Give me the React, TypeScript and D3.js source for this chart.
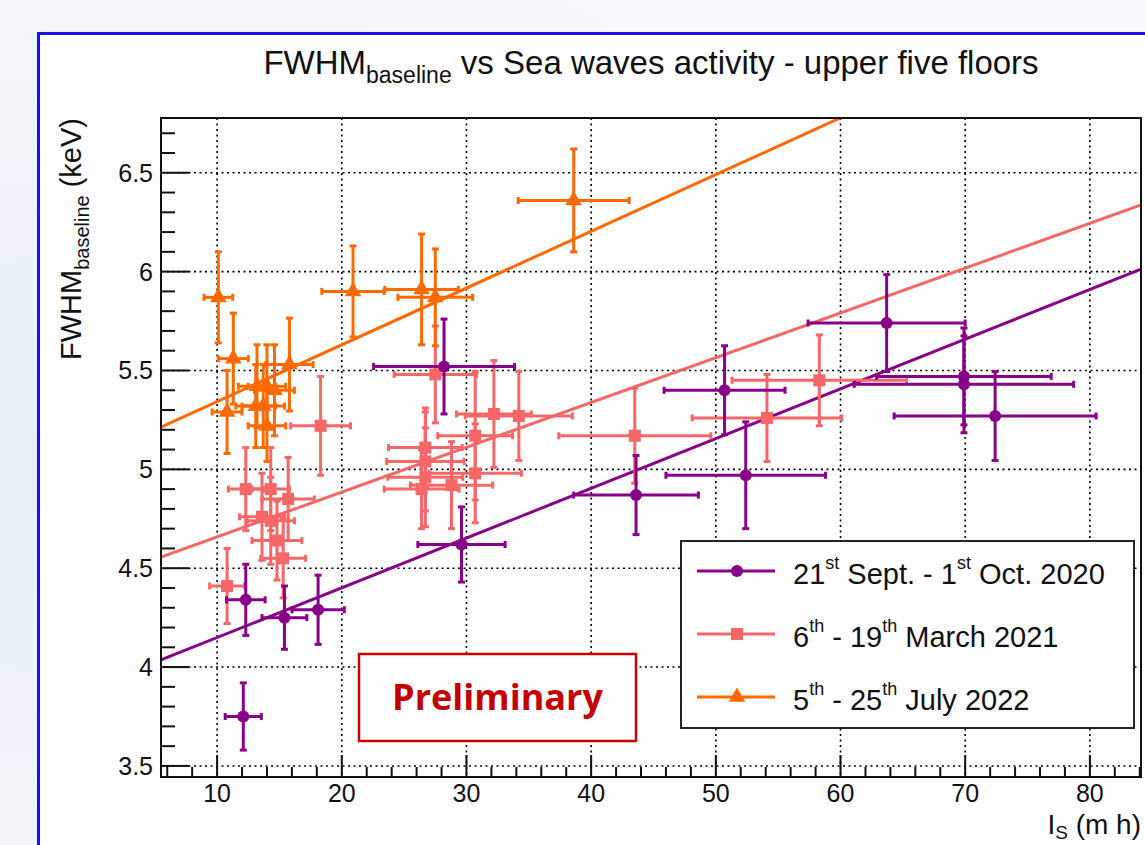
import React from 'react';
import * as d3 from 'd3';

// each point: [I_S, FWHM, I_S error, FWHM error]
const sept2020 = [
  [12.1, 3.75, 1.45, 0.17],
  [12.3, 4.34, 1.55, 0.18],
  [15.4, 4.25, 1.8, 0.16],
  [18.1, 4.29, 2.1, 0.175],
  [29.6, 4.62, 3.5, 0.19],
  [28.2, 5.52, 5.65, 0.24],
  [43.6, 4.87, 5.0, 0.2],
  [50.7, 5.40, 4.85, 0.225],
  [52.4, 4.97, 6.4, 0.27],
  [63.7, 5.74, 6.3, 0.245],
  [69.9, 5.47, 7.0, 0.245],
  [69.9, 5.43, 8.8, 0.245],
  [72.4, 5.27, 8.1, 0.225],
];

const march2021 = [
  [10.8, 4.41, 1.4, 0.19],
  [12.3, 4.90, 1.4, 0.21],
  [14.3, 4.90, 1.5, 0.21],
  [15.7, 4.85, 2.1, 0.21],
  [13.6, 4.76, 1.8, 0.22],
  [14.3, 4.74, 1.9, 0.22],
  [14.8, 4.64, 2.0, 0.2],
  [15.3, 4.55, 1.8, 0.2],
  [18.3, 5.22, 2.4, 0.25],
  [27.5, 5.48, 3.3, 0.245],
  [32.2, 5.28, 3.0, 0.27],
  [34.2, 5.27, 4.3, 0.225],
  [30.7, 5.17, 3.0, 0.325],
  [26.7, 5.11, 2.95, 0.2],
  [26.7, 5.04, 3.1, 0.25],
  [30.7, 4.98, 3.7, 0.25],
  [26.7, 4.96, 3.0, 0.25],
  [26.4, 4.90, 3.0, 0.2],
  [28.8, 4.92, 3.3, 0.22],
  [43.5, 5.17, 6.1, 0.24],
  [54.1, 5.26, 6.0, 0.22],
  [58.3, 5.45, 7.0, 0.23],
];

const july2022 = [
  [10.1, 5.87, 1.15, 0.23],
  [11.3, 5.56, 1.2, 0.23],
  [10.8, 5.29, 1.2, 0.21],
  [13.2, 5.42, 1.5, 0.21],
  [14.0, 5.42, 1.5, 0.21],
  [14.6, 5.40, 1.6, 0.23],
  [15.8, 5.53, 1.9, 0.235],
  [13.1, 5.32, 1.6, 0.21],
  [13.7, 5.32, 1.7, 0.21],
  [14.0, 5.22, 1.5, 0.18],
  [20.9, 5.90, 2.5, 0.23],
  [26.4, 5.91, 2.95, 0.28],
  [27.5, 5.87, 3.0, 0.245],
  [38.6, 6.36, 4.45, 0.26],
];

// linear fits: [intercept, slope]
const fitSept = [3.898, 0.02515];
const fitMarch = [4.432, 0.02265];
const fitJuly = [5.056, 0.0287];

const seriesColors = ['#880088', '#f76767', '#ff6a00'];
const seriesMarkers = ['circle', 'square', 'triangle'];

// legend labels as [text, superscript] pieces
const legendLabels = [
  [['21', 'st'], [' Sept. - 1', 'st'], [' Oct. 2020', '']],
  [['6', 'th'], [' - 19', 'th'], [' March 2021', '']],
  [['5', 'th'], [' - 25', 'th'], [' July 2022', '']],
];

const xTicks = [10, 20, 30, 40, 50, 60, 70, 80];
const yTicks = [3.5, 4, 4.5, 5, 5.5, 6, 6.5];

const FONT = '"Liberation Sans", Arial, Helvetica, sans-serif';

function Marker({ kind, cx, cy, color }) {
  if (kind === 'circle') return <circle cx={cx} cy={cy} r={6} fill={color} />;
  if (kind === 'square') return <rect x={cx - 6} y={cy - 6} width={12} height={12} fill={color} />;
  const p = d3.symbol(d3.symbolTriangle, 120)();
  return <path d={p} transform={`translate(${cx},${cy})`} fill={color} />;
}

export default function App() {
  const x = d3.scaleLinear().domain([5.5, 84.1]).range([161, 1141]);
  const y = d3.scaleLinear().domain([3.444, 6.777]).range([777, 118]);
  const [x0, x1] = x.range();
  const [y1, y0] = y.range();

  const series = [sept2020, march2021, july2022];
  const fits = [fitSept, fitMarch, fitJuly];

  const xMinor = d3.range(6, 85, 2).filter(v => v % 10 !== 0);
  const yMinor = d3.range(35, 68).map(v => v / 10).filter(v => Math.round(v * 10) % 5 !== 0);

  const fitLine = (f) => d3.line()
    .x(d => x(d))
    .y(d => y(f[0] + f[1] * d))(x.domain());

  const drawOrder = [1, 0, 2];
  const cap = 3.5;

  return (
    <svg width={1145} height={845} style={{ position: 'fixed', left: 0, top: 0 }}
         fontFamily={FONT}>
      <defs>
        <clipPath id="plot">
          <rect x={x0} y={y0} width={x1 - x0} height={y1 - y0} />
        </clipPath>
        <radialGradient id="bg" cx="0.05" cy="0.55" r="0.8">
          <stop offset="0" stopColor="#e6eef5" />
          <stop offset="1" stopColor="#f8fbfd" />
        </radialGradient>
      </defs>
      <rect width={1145} height={845} fill="url(#bg)" />
      <rect x={38.5} y={33.5} width={1130} height={840} fill="#fff" stroke="#1f12e0" strokeWidth={3} />

      {/* title */}
      <text x={651} y={74} textAnchor="middle" fontSize={33} fill="#111">
        <tspan>FWHM</tspan>
        <tspan fontSize={23} dy={9}>baseline</tspan>
        <tspan dy={-9}> vs Sea waves activity - upper five floors</tspan>
      </text>

      {/* grid */}
      <g stroke="#000" strokeWidth={1.6} strokeDasharray="2 3.5">
        {xTicks.map(t => <line key={'gx' + t} x1={x(t)} x2={x(t)} y1={y0} y2={y1} />)}
        {yTicks.map(t => <line key={'gy' + t} x1={x0} x2={x1} y1={y(t)} y2={y(t)} />)}
      </g>

      {/* ticks */}
      <g stroke="#111" strokeWidth={2}>
        {yTicks.map(t => <line key={'ty' + t} x1={x0} x2={x0 + 28} y1={y(t)} y2={y(t)} />)}
        {yMinor.map(t => <line key={'tym' + t} x1={x0} x2={x0 + 14} y1={y(t)} y2={y(t)} />)}
        {xTicks.map(t => <line key={'tx' + t} x1={x(t)} x2={x(t)} y1={y1} y2={y1 - 22} />)}
        {xMinor.map(t => <line key={'txm' + t} x1={x(t)} x2={x(t)} y1={y1} y2={y1 - 10} />)}
      </g>

      {/* fits and points */}
      <g clipPath="url(#plot)">
        {drawOrder.map(i => (
          <path key={'fit' + i} d={fitLine(fits[i])} fill="none" stroke={seriesColors[i]} strokeWidth={3} />
        ))}
      </g>
      {drawOrder.map(i => (
        <g key={'s' + i}>
          {series[i].map((d, j) => {
            const [vx, vy, ex, ey] = d;
            const px = x(vx), py = y(vy);
            const xl = x(vx - ex), xr = x(vx + ex), yt = y(vy + ey), yb = y(vy - ey);
            return (
              <g key={j} stroke={seriesColors[i]} strokeWidth={3}>
                <line x1={xl} x2={xr} y1={py} y2={py} />
                <line x1={px} x2={px} y1={yt} y2={yb} />
                <line x1={xl} x2={xl} y1={py - cap} y2={py + cap} />
                <line x1={xr} x2={xr} y1={py - cap} y2={py + cap} />
                <line x1={px - cap} x2={px + cap} y1={yt} y2={yt} />
                <line x1={px - cap} x2={px + cap} y1={yb} y2={yb} />
              </g>
            );
          })}
          {series[i].map((d, j) => (
            <Marker key={'m' + j} kind={seriesMarkers[i]} cx={x(d[0])} cy={y(d[1])} color={seriesColors[i]} />
          ))}
        </g>
      ))}

      {/* frame */}
      <rect x={x0} y={y0} width={x1 - x0} height={y1 - y0} fill="none" stroke="#111" strokeWidth={2} />

      {/* tick labels */}
      <g fontSize={25} fill="#111">
        {yTicks.map(t => (
          <text key={'ly' + t} x={153} y={y(t) + 9} textAnchor="end">{d3.format('~g')(t)}</text>
        ))}
        {xTicks.map(t => (
          <text key={'lx' + t} x={x(t)} y={802} textAnchor="middle">{t}</text>
        ))}
      </g>

      {/* axis titles */}
      <text transform={`translate(81,${y0}) rotate(-90)`} textAnchor="end" fontSize={29} fill="#111">
        <tspan>FWHM</tspan>
        <tspan fontSize={20} dy={8}>baseline</tspan>
        <tspan dy={-8}>{'  (keV)'}</tspan>
      </text>
      <text x={1141} y={834} textAnchor="end" fontSize={28} fill="#111">
        <tspan>I</tspan>
        <tspan fontSize={19} dy={5}>S</tspan>
        <tspan dy={-5}> (m h)</tspan>
      </text>

      {/* legend */}
      <rect x={681} y={541} width={453} height={187} fill="#fff" stroke="#222" strokeWidth={2} />
      {legendLabels.map((parts, i) => {
        const ry = 571 + i * 63;
        return (
          <g key={'lg' + i}>
            <line x1={697} x2={775} y1={ry} y2={ry} stroke={seriesColors[i]} strokeWidth={3} />
            <Marker kind={seriesMarkers[i]} cx={737} cy={ry} color={seriesColors[i]} />
            <text x={793} y={ry + 13} fontSize={29} fill="#111">
              {parts.map((p, k) => (
                <React.Fragment key={k}>
                  <tspan dy={k === 0 ? 0 : 15} fontSize={29}>{p[0]}</tspan>
                  {p[1] ? <tspan dy={-15} fontSize={18}>{p[1]}</tspan> : null}
                </React.Fragment>
              ))}
            </text>
          </g>
        );
      })}

      {/* preliminary stamp */}
      <rect x={359} y={654} width={277} height={87} fill="#fff" stroke="#cc0000" strokeWidth={2.5} />
      <text x={497.5} y={710} textAnchor="middle" fontSize={36} fontWeight="bold"
            fontFamily='"Open Sans", "Noto Sans", sans-serif' fill="#c40000">Preliminary</text>
    </svg>
  );
}
